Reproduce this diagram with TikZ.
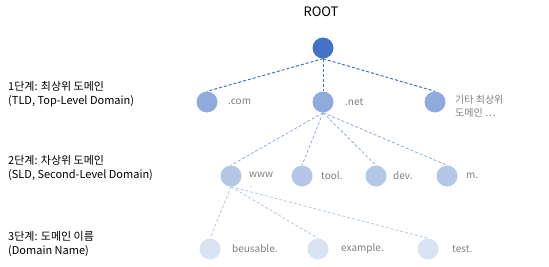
\documentclass[tikz,border=0pt]{standalone}
\usepackage{fontspec}
\setmainfont{Noto Sans CJK KR}
\definecolor{c0}{HTML}{4472C4}
\definecolor{c1}{HTML}{8FAADC}
\definecolor{c2}{HTML}{B4C7E7}
\definecolor{c3}{HTML}{DAE3F3}
\definecolor{tg}{HTML}{808080}
\begin{document}
\begin{tikzpicture}[x=1pt,y=-1pt,
  dot/.style={circle, inner sep=0pt, minimum size=21pt},
  d0/.style={dot, fill=c0},
  d1/.style={dot, fill=c1},
  d2/.style={dot, fill=c2},
  d3/.style={dot, fill=c3},
  lbl/.style={text=tg, anchor=west, inner sep=0pt, font=\fontsize{10}{13.5}\selectfont, align=left},
  side/.style={anchor=west, inner sep=0pt, align=left, font=\fontsize{11}{14.5}\selectfont},
  e0/.style={draw=c0, dash pattern=on 3pt off 2pt, line width=1pt},
  e1/.style={draw=c1, dash pattern=on 3pt off 2pt, line width=0.8pt},
  e2/.style={draw=c2, dash pattern=on 3pt off 2pt, line width=0.8pt}]
\useasboundingbox (0,0) rectangle (549,267);
\node[font=\fontsize{13}{15}\selectfont] (roottxt) at (321,12) {ROOT};
\node[d0] (root) at (323,48) {};
% level 1
\node[d1] (com) at (207,102) {};
\node[d1] (net) at (323,102) {};
\node[d1] (oth) at (435,102) {};
\node[lbl] (comt) at (228,102) {.com};
\node[lbl] (nett) at (345,102) {.net};
\node[lbl] (otht) at (455,106.5) {기타 최상위\\도메인 ⋯};
% level 2
\node[d2] (www) at (231,176) {};
\node[d2] (tool) at (302,176) {};
\node[d2] (dev) at (376,176) {};
\node[d2] (m) at (447,176) {};
\node[lbl] (wwwt) at (249,175) {www};
\node[lbl, font=\fontsize{7}{8}\selectfont] (wwwd) at (249.5,187) {.};
\node[lbl] (toolt) at (321,176) {tool.};
\node[lbl] (devt) at (393,176) {dev.};
\node[lbl] (mt) at (466,176) {m.};
% level 3
\node[d3] (beu) at (210,249) {};
\node[d3] (exa) at (318,249) {};
\node[d3] (tst) at (428,249) {};
\node[lbl] (beut) at (232,249) {beusable.};
\node[lbl] (exat) at (341,249) {example.};
\node[lbl] (tstt) at (452,249) {test.};
% side labels
\node[side] (s1) at (8,94) {1단계: 최상위 도메인\\(TLD, Top-Level Domain)};
\node[side] (s2) at (8,168) {2단계: 차상위 도메인\\(SLD, Second-Level Domain)};
\node[side] (s3) at (8,244) {3단계: 도메인 이름\\(Domain Name)};
% edges
\draw[e0] (root.south) -- (com.north);
\draw[e0] (root.south) -- (net.north);
\draw[e0] (root.south) -- (oth.north);
\draw[e1] (net.south) -- (www.north);
\draw[e1] (net.south) -- (tool.north);
\draw[e1] (net.south) -- (dev.north);
\draw[e1] (net.south) -- (m.north);
\draw[e2] (www.south) -- (beu.north);
\draw[e2] (www.south) -- (exa.north);
\draw[e2] (www.south) -- (tst.north);
\end{tikzpicture}
\end{document}
